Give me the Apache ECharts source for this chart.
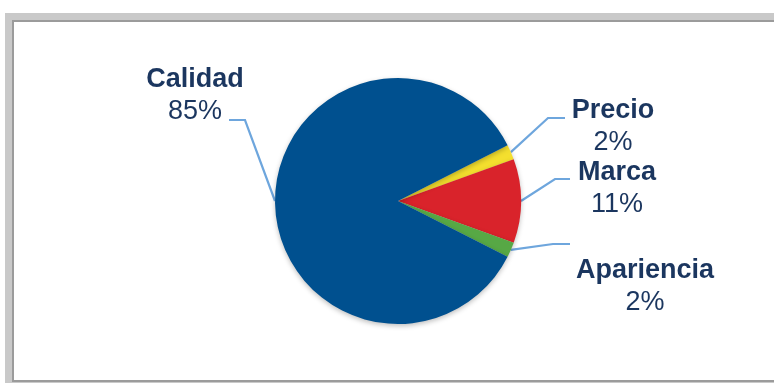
<!DOCTYPE html>
<html>
<head>
<meta charset="utf-8">
<script src="https://cdn.jsdelivr.net/npm/echarts@6/dist/echarts.min.js"></script>
<style>
  html, body { margin: 0; padding: 0; background: #ffffff; }
  #chart { width: 774px; height: 383px; }
</style>
</head>
<body>
<div id="chart"></div>
<script>
// Purchase drivers: share of answers per attribute (percent)
const categories = ['Precio', 'Marca', 'Apariencia', 'Calidad'];
const shares = [2, 11, 2, 85];
const sliceColors = ['#F4DF2E', '#D9232B', '#57A845', '#00508F'];

// Where each label block sits (centre x, top y) and where its leader line ends
const labelPlacement = {
  Calidad:    { x: 195, y: 64,  end: [229, 120], run: 16 },
  Precio:     { x: 613, y: 95,  end: [565, 118], run: -17 },
  Marca:      { x: 617, y: 157, end: [570, 179], run: -15 },
  Apariencia: { x: 645, y: 255, end: [570, 244], run: -17 }
};

const chart = echarts.init(document.getElementById('chart'), null, { renderer: 'canvas' });

chart.setOption({
  animation: false,
  backgroundColor: '#ffffff',
  graphic: [
    { type: 'rect', silent: true, z: -10, shape: { x: 5, y: 13, width: 800, height: 372 }, style: { fill: '#c9c9c9' } },
    { type: 'rect', silent: true, z: -9, shape: { x: 12, y: 20, width: 800, height: 362 }, style: { fill: '#9b9b9b' } },
    { type: 'rect', silent: true, z: -8, shape: { x: 14, y: 22, width: 800, height: 358 }, style: { fill: '#ffffff' } }
  ],
  series: [{
    type: 'pie',
    center: [398, 201],
    radius: 123,
    startAngle: 27,
    clockwise: true,
    avoidLabelOverlap: false,
    data: categories.map((name, i) => ({
      name: name,
      value: shares[i],
      itemStyle: { color: sliceColors[i] }
    })),
    itemStyle: {
      shadowBlur: 5,
      shadowOffsetY: 2,
      shadowColor: 'rgba(0,0,0,0.25)'
    },
    label: {
      show: true,
      position: 'outside',
      formatter: '{n|{b}}\n{v|{c}%}',
      align: 'center',
      rich: {
        n: { fontFamily: 'Liberation Sans, Arial, sans-serif', fontWeight: 'bold', fontSize: 27, color: '#1B365F', lineHeight: 32, align: 'center' },
        v: { fontFamily: 'Liberation Sans, Arial, sans-serif', fontSize: 27, color: '#1B365F', lineHeight: 32, align: 'center' }
      }
    },
    labelLine: {
      show: true,
      smooth: false,
      lineStyle: { color: '#6EA6DD', width: 2.2 }
    },
    emphasis: { disabled: true },
    labelLayout: function (p) {
      const place = labelPlacement[categories[p.dataIndex]];
      const start = p.labelLinePoints ? p.labelLinePoints[0] : null;
      const end = place.end;
      const bend = [end[0] + place.run, end[1]];
      const out = { x: place.x, y: place.y, align: 'center', verticalAlign: 'top' };
      if (start) out.labelLinePoints = [start, bend, end];
      return out;
    }
  }]
});
</script>
</body>
</html>
